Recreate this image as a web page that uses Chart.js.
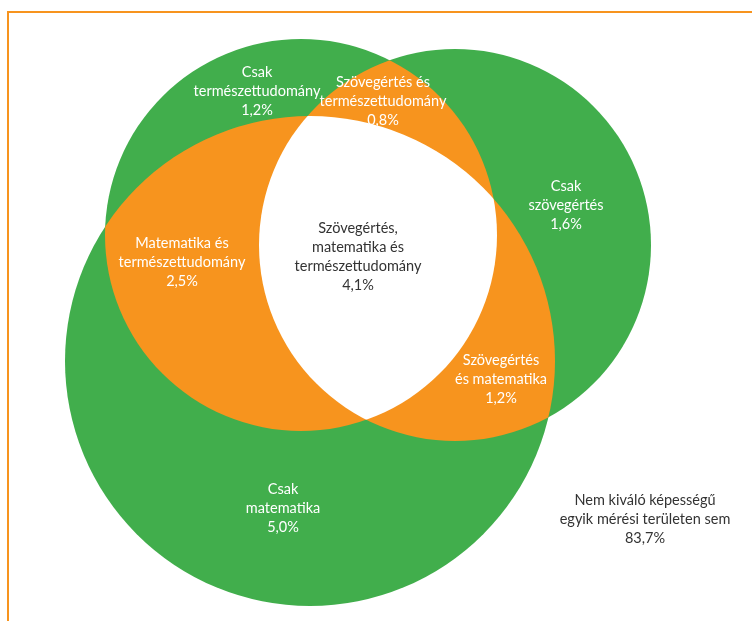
<!DOCTYPE html>
<html>
<head>
<meta charset="utf-8">
<script src="https://cdn.jsdelivr.net/npm/chart.js@4.4.1/dist/chart.umd.min.js"></script>
<style>
  html, body { margin: 0; padding: 0; background: #fff; }
  #wrap { width: 752px; height: 621px; }
</style>
</head>
<body>
<div id="wrap"><canvas id="venn"></canvas></div>
<script>
// Kiváló képességű tanulók aránya mérési területenként (%)
const sets = ["természettudomány", "szövegértés", "matematika"];

const regionNames = [
  "Csak\ntermészettudomány",
  "Szövegértés és\ntermészettudomány",
  "Csak\nszövegértés",
  "Szövegértés,\nmatematika és\ntermészettudomány",
  "Matematika és\ntermészettudomány",
  "Szövegértés\nés matematika",
  "Csak\nmatematika",
  "Nem kiváló képességű\negyik mérési területen sem",
];
const regionValues = [1.2, 0.8, 1.6, 4.1, 2.5, 1.2, 5.0, 83.7];

// layout (axis units) — where the circles and the labels sit
const circleX = [301, 455, 310];
const circleY = [235, 245, 361];
const circleR = [196, 196, 245];
const labelX = [257, 383, 566, 358, 182, 501, 283, 645];
const labelY = [91, 101, 205, 257, 262, 379, 508, 519];
const labelDark = [false, false, false, true, false, false, false, true];

const GREEN = "#41ae4c";
const ORANGE = "#f7941e";
const DARK = "#333333";

function circlePath(ctx, el) {
  ctx.beginPath();
  ctx.arc(el.x, el.y, el.options.radius, 0, Math.PI * 2);
}

const overlapPlugin = {
  id: "overlaps",
  afterDatasetsDraw(chart) {
    const { ctx } = chart;
    const els = chart.getDatasetMeta(0).data;
    const pairs = [[0, 1], [0, 2], [1, 2]];
    pairs.forEach(([a, b]) => {
      ctx.save();
      circlePath(ctx, els[a]);
      ctx.clip();
      circlePath(ctx, els[b]);
      ctx.fillStyle = ORANGE;
      ctx.fill();
      ctx.restore();
    });
    ctx.save();
    circlePath(ctx, els[0]);
    ctx.clip();
    circlePath(ctx, els[1]);
    ctx.clip();
    circlePath(ctx, els[2]);
    ctx.fillStyle = "#ffffff";
    ctx.fill();
    ctx.restore();
  },
};

const framePlugin = {
  id: "frame",
  beforeDatasetsDraw(chart) {
    const { ctx, scales: { x, y } } = chart;
    ctx.save();
    ctx.strokeStyle = ORANGE;
    ctx.lineWidth = 2;
    ctx.beginPath();
    ctx.moveTo(x.getPixelForValue(8), y.getPixelForValue(621));
    ctx.lineTo(x.getPixelForValue(8), y.getPixelForValue(12));
    ctx.lineTo(x.getPixelForValue(752), y.getPixelForValue(12));
    ctx.stroke();
    ctx.restore();
  },
};

const labelPlugin = {
  id: "regionLabels",
  afterDraw(chart) {
    const { ctx, scales: { x, y } } = chart;
    const lineH = 19;
    ctx.save();
    ctx.font = "14.5px Lato";
    ctx.textAlign = "center";
    ctx.textBaseline = "middle";
    regionNames.forEach((name, i) => {
      const lines = name.split("\n");
      lines.push(regionValues[i].toFixed(1).replace(".", ",") + "%");
      const cx = x.getPixelForValue(labelX[i]);
      const cy = y.getPixelForValue(labelY[i]);
      const top = cy - (lines.length - 1) * lineH / 2;
      ctx.fillStyle = labelDark[i] ? DARK : "#ffffff";
      lines.forEach((ln, j) => ctx.fillText(ln, cx, top + j * lineH));
    });
    ctx.restore();
  },
};

new Chart(document.getElementById("venn"), {
  type: "bubble",
  data: {
    datasets: [{
      label: "Mérési területek",
      data: sets.map((s, i) => ({ x: circleX[i], y: circleY[i], r: circleR[i] })),
      backgroundColor: GREEN,
      borderWidth: 0,
      hoverBorderWidth: 0,
    }],
  },
  options: {
    responsive: true,
    maintainAspectRatio: false,
    animation: false,
    events: [],
    layout: { padding: 0, autoPadding: false },
    clip: false,
    scales: {
      x: { type: "linear", min: 0, max: 752, display: false },
      y: { type: "linear", min: 0, max: 621, reverse: true, display: false },
    },
    plugins: {
      legend: { display: false },
      tooltip: { enabled: false },
    },
  },
  plugins: [framePlugin, overlapPlugin, labelPlugin],
});
</script>
</body>
</html>
